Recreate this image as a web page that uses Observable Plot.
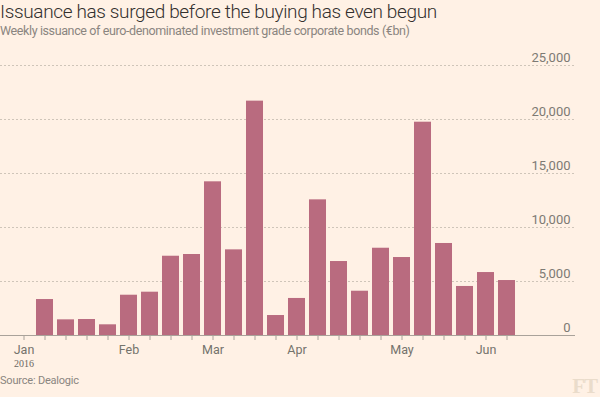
<!DOCTYPE html>
<html>
<head>
<meta charset="utf-8">
<script src="https://cdn.jsdelivr.net/npm/d3@7"></script>
<script src="https://cdn.jsdelivr.net/npm/@observablehq/plot@0.6"></script>
<style>
  html, body { margin: 0; padding: 0; background: #fff1e5; }
  body { width: 600px; height: 397px; position: relative; overflow: hidden; font-family: "Roboto", sans-serif; }
  .title { font-size: 19px; line-height: 24px; color: #33302e; font-weight: 300; margin: 0; letter-spacing: -0.36px; white-space: nowrap; }
  .subtitle { font-size: 12.5px; line-height: 14px; color: #8a8580; margin: 0; letter-spacing: -0.38px; white-space: nowrap; }
  #chart { position: absolute; top: 46px; left: 0; }
  .source { position: absolute; left: 0; top: 373.5px; font-size: 11px; line-height: 13px; color: #8a8580; letter-spacing: -0.2px; }
  .logo { position: absolute; right: 3px; top: 374px; font-family: "Liberation Serif", "DejaVu Serif", serif; font-weight: bold; font-size: 21px; color: #eadccb; letter-spacing: -1px; }
</style>
</head>
<body>
<div class="title">Issuance has surged before the buying has even begun</div>
<div class="subtitle">Weekly issuance of euro-denominated investment grade corporate bonds (€bn)</div>
<div id="chart"></div>
<div class="source">Source: Dealogic</div>
<div class="logo">FT</div>
<script>
// Week dates (Fridays, 2016)
const weeks = ["2016-01-01","2016-01-08","2016-01-15","2016-01-22","2016-01-29",
  "2016-02-05","2016-02-12","2016-02-19","2016-02-26",
  "2016-03-04","2016-03-11","2016-03-18","2016-03-25",
  "2016-04-01","2016-04-08","2016-04-15","2016-04-22","2016-04-29",
  "2016-05-06","2016-05-13","2016-05-20","2016-05-27",
  "2016-06-03","2016-06-10"];
// Weekly issuance (€bn as shown on axis)
const issuance = [0, 3330, 1450, 1480, 990, 3730, 4010, 7340, 7500,
  14230, 7930, 21700, 1850, 3430, 12560, 6850, 4100, 8080, 7220,
  19750, 8520, 4540, 5830, 5090];
const yTicks = [0, 5000, 10000, 15000, 20000, 25000];
const monthNames = ["Jan","Feb","Mar","Apr","May","Jun","Jul","Aug","Sep","Oct","Nov","Dec"];
const yearLabel = [{week: "2016-01-01", label: "2016"}];

const data = weeks.map((w, i) => ({week: w, value: issuance[i]}));

const labelFor = (w) => {
  const d = new Date(w + "T00:00:00");
  return d.getDate() <= 7 ? monthNames[d.getMonth()] : "";
};

const chart = Plot.plot({
  width: 600,
  height: 328,
  marginTop: 19,
  marginBottom: 39,
  marginLeft: 0,
  marginRight: 25,
  style: {background: "transparent", fontFamily: "Roboto, sans-serif"},
  x: {type: "band", domain: weeks, paddingInner: 0.19, paddingOuter: 0.095, align: 0.5, round: false, insetLeft: 13, insetRight: 58, label: null},
  y: {domain: [0, 25000], ticks: yTicks, label: null},
  marks: [
    Plot.gridY(yTicks.filter(d => d > 0), {stroke: "#cfc5b9", strokeOpacity: 1, strokeDasharray: "2,2"}),
    Plot.barY(data, {x: "week", y: "value", fill: "#b96b7f"}),
    Plot.ruleY([0], {stroke: "#a9a29a"}),
    Plot.axisY(yTicks, {anchor: "right", label: null, tickSize: 0, tickPadding: 0, textAnchor: "end", dx: -5, dy: -8,
      tickFormat: d3.format(","), fontSize: 13, fill: "#7d7a74"}),
    Plot.axisX(weeks, {label: null, tickSize: 5, tickPadding: 5, tickFormat: labelFor, stroke: "#a9a29a", fill: "#74736c", fontSize: 12.5}),
    Plot.text(yearLabel, {x: "week", text: "label", frameAnchor: "bottom", dy: 31, fontSize: 10,
      fill: "#6b6761", fontFamily: "\"Liberation Serif\", serif"})
  ]
});
document.getElementById("chart").appendChild(chart);
</script>
</body>
</html>
